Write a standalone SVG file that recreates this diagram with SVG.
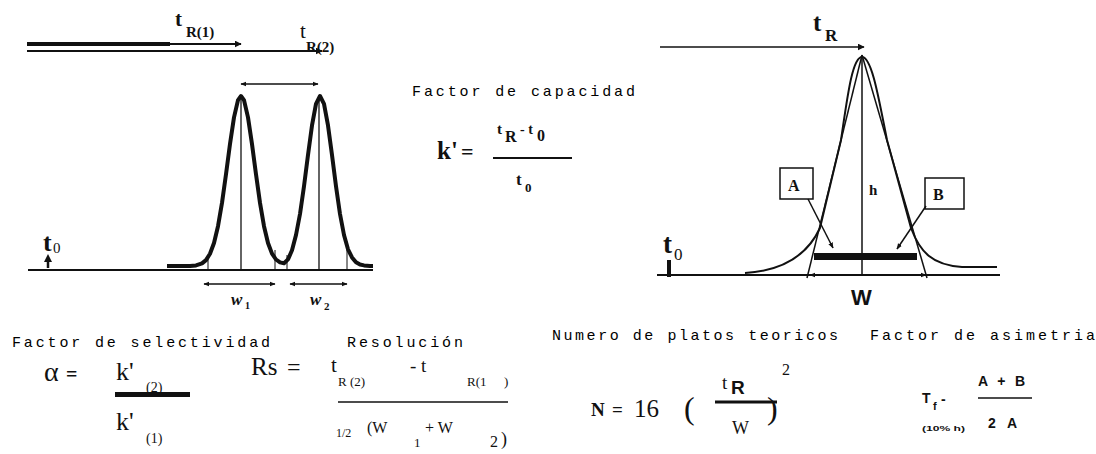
<svg xmlns="http://www.w3.org/2000/svg" width="1096" height="454" viewBox="0 0 1096 454">
<style>
.cap{font-family:"Liberation Mono",monospace;font-size:15px;fill:#000}
.ser{font-family:"Liberation Serif",serif;fill:#111}
.sb{font-family:"Liberation Serif",serif;font-weight:bold;fill:#111}
.sans{font-family:"Liberation Sans",sans-serif;font-weight:bold;fill:#111}
.ln{stroke:#111;fill:none}
</style>
<defs>
<marker id="ah" viewBox="0 0 10 10" refX="9" refY="5" markerWidth="7" markerHeight="7" orient="auto-start-reverse" markerUnits="userSpaceOnUse"><path d="M0,0 L10,5 L0,10 Z" fill="#111"/></marker>
<marker id="ahs" viewBox="0 0 10 10" refX="9" refY="5" markerWidth="6" markerHeight="6" orient="auto-start-reverse" markerUnits="userSpaceOnUse"><path d="M0,1 L10,5 L0,9 Z" fill="#111"/></marker>
</defs>
<rect width="1096" height="454" fill="#fff"/>

<g id="chart-left">
<line class="ln" x1="27" y1="44" x2="170" y2="44" stroke-width="4"/>
<line class="ln" x1="168" y1="44" x2="241" y2="44" stroke-width="2" marker-end="url(#ah)"/>
<line class="ln" x1="27" y1="51" x2="322" y2="51" stroke-width="1.8" marker-end="url(#ah)"/>
<text class="sb" x="175" y="26" font-size="21">t</text>
<text class="sb" x="186" y="37" font-size="15">R(1)</text>
<text class="ser" x="300" y="38" font-size="21">t</text>
<text class="sb" x="306" y="52" font-size="15">R(2)</text>
<line class="ln" x1="241" y1="84" x2="318" y2="84" stroke-width="1.3" marker-start="url(#ahs)" marker-end="url(#ahs)"/>
<line class="ln" x1="28" y1="270" x2="373" y2="270" stroke-width="2"/>
<polyline class="ln" stroke-width="4" stroke-linejoin="round" points="167,266 190,266 196,265.4 202,263.4 206,260.1 210,253.8 214,243 218,226.2 222,202.9 226,174.3 230,144.1 234,117.4 238,100.1 241,96 244,100.1 248,117.4 252,144.1 256,174.3 260,202.9 264,226.2 268,243 272,253.6 276,259.5 280,262.4 284,263.2 288,259.4 292,250.3 296,235 300,214 304,186.3 308,155 312,125.4 316,103.9 320,96 324,103.9 328,125.4 332,155 336,186.3 340,214 344,235 348,249.3 352,257.4 356,262.3 360,264.5 364,265.4 370,266 373,266"/>
<line class="ln" x1="241" y1="97" x2="241" y2="270" stroke-width="1.3"/>
<line class="ln" x1="319" y1="97" x2="319" y2="270" stroke-width="1.3"/>
<line class="ln" x1="208" y1="258" x2="208" y2="270" stroke-width="1"/>
<line class="ln" x1="275" y1="250" x2="275" y2="270" stroke-width="1"/>
<line class="ln" x1="287" y1="255" x2="287" y2="270" stroke-width="1"/>
<line class="ln" x1="347" y1="250" x2="347" y2="270" stroke-width="1"/>
<line class="ln" x1="204" y1="284" x2="275" y2="284" stroke-width="1.5" marker-start="url(#ahs)" marker-end="url(#ahs)"/>
<line class="ln" x1="290" y1="284" x2="347" y2="284" stroke-width="1.5" marker-start="url(#ahs)" marker-end="url(#ahs)"/>
<text class="sb" x="231" y="305" font-size="17" font-style="italic">w</text>
<text class="sb" x="245" y="309" font-size="10">1</text>
<text class="sb" x="310" y="305" font-size="17" font-style="italic">w</text>
<text class="sb" x="324" y="310" font-size="11">2</text>
<text class="sb" x="43" y="251" font-size="26">t</text>
<text class="ser" x="53" y="253" font-size="15">0</text>
<line class="ln" x1="48" y1="268" x2="48" y2="258" stroke-width="2.5"/>
<path d="M44,262 L48,254 L52,262 Z" fill="#111"/>
</g>

<g id="capacity-factor">
<text class="cap" x="412" y="96" textLength="223" lengthAdjust="spacing">Factor de capacidad</text>
<text class="sb" x="437" y="159" font-size="25">k'</text>
<text class="sb" x="461" y="159" font-size="22">=</text>
<line class="ln" x1="493" y1="158" x2="572" y2="158" stroke-width="2"/>
<text class="sb" x="497" y="134" font-size="15">t</text>
<text class="sb" x="505" y="142" font-size="16">R</text>
<text class="sb" x="520" y="134" font-size="14">- t</text>
<text class="sb" x="537" y="141" font-size="16">0</text>
<text class="sb" x="516" y="185" font-size="17">t</text>
<text class="sb" x="525" y="192" font-size="13">0</text>
</g>

<g id="chart-right">
<line class="ln" x1="660" y1="47" x2="864" y2="47" stroke-width="1.6" marker-end="url(#ah)"/>
<text class="sb" x="813" y="31" font-size="25">t</text>
<text class="sb" x="825" y="41" font-size="17">R</text>
<line class="ln" x1="657" y1="275" x2="1000" y2="275" stroke-width="2"/>
<line class="ln" x1="862" y1="58" x2="862" y2="275" stroke-width="1.5"/>
<line class="ln" x1="862" y1="55" x2="807" y2="278" stroke-width="1.5"/>
<line class="ln" x1="862" y1="55" x2="927" y2="278" stroke-width="1.5"/>
<path class="ln" stroke-width="2" d="M745,273 C780,271 806,258 820,228 L841,140 C847,100 852,57 862,57 C872,57 879,100 887,140 L911,228 C920,252 932,265 962,267 L997,267"/>
<rect x="814" y="253" width="103" height="7" fill="#111"/>
<line class="ln" x1="862" y1="275" x2="810" y2="275" stroke-width="1.5" marker-end="url(#ahs)"/>
<line class="ln" x1="862" y1="275" x2="926" y2="275" stroke-width="1.5" marker-end="url(#ahs)"/>
<text class="sans" x="851" y="305" font-size="22">W</text>
<text class="sb" x="869" y="195" font-size="15">h</text>
<rect x="667" y="260" width="4" height="17" fill="#111"/>
<text class="sb" x="663" y="253" font-size="27">t</text>
<text class="ser" x="674" y="260" font-size="17">0</text>
</g>

<g id="box-A">
<rect x="780" y="168" width="33" height="31" fill="#fff" stroke="#111" stroke-width="1.5"/>
<text class="sb" x="788" y="191" font-size="16">A</text>
</g>
<g id="box-B">
<rect x="925" y="178" width="39" height="31" fill="#fff" stroke="#111" stroke-width="1.5"/>
<text class="sb" x="933" y="200" font-size="16">B</text>
</g>

<g id="connectors">
<line class="ln" x1="808" y1="199" x2="833" y2="248" stroke-width="1.5" marker-end="url(#ahs)"/>
<line class="ln" x1="926" y1="206" x2="897" y2="249" stroke-width="1.5" marker-end="url(#ahs)"/>
</g>

<g id="selectivity">
<text class="cap" x="12" y="347" textLength="258" lengthAdjust="spacing">Factor de selectividad</text>
<text class="ser" x="44" y="381" font-size="28">α</text>
<text class="sb" x="66" y="381" font-size="20">=</text>
<text class="ser" x="116" y="380" font-size="26">k'</text>
<text class="ser" x="146" y="392" font-size="14">(2)</text>
<rect x="115" y="392" width="75" height="5" fill="#111"/>
<text class="ser" x="116" y="430" font-size="26">k'</text>
<text class="ser" x="146" y="443" font-size="14">(1)</text>
</g>

<g id="resolution">
<text class="cap" x="347" y="347" textLength="116" lengthAdjust="spacing">Resolución</text>
<text class="ser" x="251" y="375" font-size="25">Rs</text>
<text class="ser" x="287" y="375" font-size="24">=</text>
<text class="ser" x="331" y="372" font-size="21">t</text>
<text class="ser" x="338" y="386" font-size="13">R (2)</text>
<text class="ser" x="410" y="372" font-size="19">- t</text>
<text class="ser" x="467" y="386" font-size="13">R(1</text>
<text class="ser" x="504" y="386" font-size="13">)</text>
<line class="ln" x1="338" y1="402" x2="508" y2="402" stroke-width="1.3"/>
<text class="ser" x="336" y="437" font-size="12">1/2</text>
<text class="ser" x="367" y="433" font-size="16">(W</text>
<text class="ser" x="414" y="447" font-size="13">1</text>
<text class="ser" x="425" y="433" font-size="16">+ W</text>
<text class="ser" x="490" y="447" font-size="16">2</text>
<text class="ser" x="501" y="445" font-size="18">)</text>
</g>

<g id="plates">
<text class="cap" x="552" y="340" textLength="286" lengthAdjust="spacing">Numero de platos teoricos</text>
<text class="sb" x="591" y="416" font-size="19">N</text>
<text class="sb" x="612" y="416" font-size="19">=</text>
<text class="ser" x="634" y="417" font-size="25">16</text>
<text class="ser" x="684" y="419" font-size="32">(</text>
<line class="ln" x1="715" y1="402" x2="777" y2="402" stroke-width="3"/>
<text class="ser" x="722" y="389" font-size="19">t</text>
<text class="sans" x="731" y="394" font-size="19" font-weight="normal">R</text>
<text class="ser" x="732" y="434" font-size="18">W</text>
<text class="ser" x="767" y="419" font-size="32">)</text>
<text class="ser" x="782" y="375" font-size="16">2</text>
</g>

<g id="asymmetry">
<text class="cap" x="870" y="340" textLength="225" lengthAdjust="spacing">Factor de asimetria</text>
<text class="sans" x="922" y="403" font-size="14">T</text>
<text class="sans" x="933" y="410" font-size="11">f</text>
<text class="sans" x="941" y="404" font-size="14">-</text>
<text class="sans" x="922" y="431" font-size="8" textLength="43" lengthAdjust="spacingAndGlyphs">(10% h)</text>
<text class="sans" x="978" y="386" font-size="14" textLength="47" lengthAdjust="spacing">A + B</text>
<line class="ln" x1="978" y1="398" x2="1032" y2="398" stroke-width="1.5"/>
<text class="sans" x="988" y="428" font-size="14" textLength="29" lengthAdjust="spacing">2 A</text>
</g>
</svg>
